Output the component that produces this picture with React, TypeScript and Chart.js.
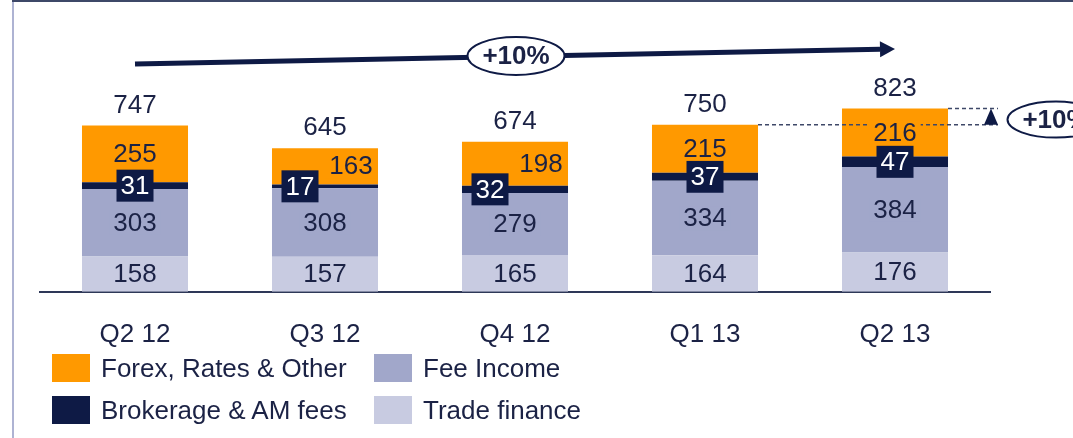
import React, { useEffect, useRef } from 'react';
import { Chart, registerables } from 'chart.js';

Chart.register(...registerables);

const categories = ['Q2 12', 'Q3 12', 'Q4 12', 'Q1 13', 'Q2 13'];
const tradeFinance = [158, 157, 165, 164, 176];
const feeIncome = [303, 308, 279, 334, 384];
const brokerage = [31, 17, 32, 37, 47];
const forex = [255, 163, 198, 215, 216];
const growthLabels = ['+10%', '+10%'];

const NAVY = '#0E1A45';
const TEXT = '#1B2245';
const ORANGE = '#FF9900';
const FEE = '#A1A7CA';
const TRADE = '#C8CBE1';
const FONT = '"Liberation Sans", Arial, Helvetica, sans-serif';
const FS = 26;

// bars whose top labels are shifted sideways to avoid overlapping
const shiftedBars = [1, 2];

const legendItems = [
  { label: 'Forex, Rates & Other', color: ORANGE, col: 0, row: 0 },
  { label: 'Fee Income', color: FEE, col: 1, row: 0 },
  { label: 'Brokerage & AM fees', color: NAVY, col: 0, row: 1 },
  { label: 'Trade finance', color: TRADE, col: 1, row: 1 },
];

function drawPill(ctx: CanvasRenderingContext2D, cx: number, cy: number, w: number, h: number, text: string) {
  ctx.save();
  ctx.beginPath();
  ctx.ellipse(cx, cy, w / 2, h / 2, 0, 0, Math.PI * 2);
  ctx.fillStyle = '#ffffff';
  ctx.fill();
  ctx.lineWidth = 2;
  ctx.strokeStyle = NAVY;
  ctx.stroke();
  ctx.fillStyle = TEXT;
  ctx.font = `bold ${FS}px ${FONT}`;
  ctx.textAlign = 'center';
  ctx.textBaseline = 'middle';
  ctx.fillText(text, cx, cy + 1);
  ctx.restore();
}

const framePlugin = {
  id: 'frame',
  beforeDraw(chart: any) {
    const ctx = chart.ctx as CanvasRenderingContext2D;
    ctx.save();
    ctx.fillStyle = '#AEB3D3';
    ctx.fillRect(12, 0, 2, chart.height);
    ctx.fillStyle = '#3E4868';
    ctx.fillRect(12, 0, chart.width - 12, 2);
    ctx.restore();
  },
};

const dashPlugin = {
  id: 'qoqDashes',
  afterDatasetsDraw(chart: any) {
    const ctx = chart.ctx as CanvasRenderingContext2D;
    const n = chart.data.labels.length;
    const topMeta = chart.getDatasetMeta(chart.data.datasets.length - 1);
    const prev = topMeta.data[n - 2].getProps(['x', 'y', 'width'], true);
    const last = topMeta.data[n - 1].getProps(['x', 'y', 'width'], true);
    const xEnd = 998;
    ctx.save();
    ctx.strokeStyle = '#3E4868';
    ctx.lineWidth = 1.5;
    ctx.setLineDash([4, 3]);
    ctx.beginPath();
    ctx.moveTo(prev.x + prev.width / 2, prev.y);
    ctx.lineTo(xEnd, prev.y);
    ctx.moveTo(last.x + last.width / 2, last.y);
    ctx.lineTo(xEnd, last.y);
    ctx.stroke();
    ctx.setLineDash([]);
    ctx.fillStyle = NAVY;
    ctx.beginPath();
    ctx.moveTo(991, last.y);
    ctx.lineTo(984, prev.y);
    ctx.lineTo(998, prev.y);
    ctx.closePath();
    ctx.fill();
    ctx.restore();
  },
};

const labelsPlugin = {
  id: 'segmentLabels',
  afterDatasetsDraw(chart: any) {
    const ctx = chart.ctx as CanvasRenderingContext2D;
    ctx.save();
    ctx.font = `${FS}px ${FONT}`;
    ctx.textAlign = 'center';
    ctx.textBaseline = 'middle';
    const n = chart.data.labels.length;
    chart.data.datasets.forEach((ds: any, di: number) => {
      const meta = chart.getDatasetMeta(di);
      meta.data.forEach((bar: any, i: number) => {
        const { x, y, base } = bar.getProps(['x', 'y', 'base'], true);
        const cy = (y + base) / 2;
        const val = ds.data[i];
        const shifted = shiftedBars.includes(i);
        if (ds.kind === 'brokerage') {
          const cx = shifted ? x - 25 : x;
          ctx.fillStyle = NAVY;
          ctx.fillRect(cx - 18.5, cy - 16, 37, 32);
          ctx.fillStyle = '#ffffff';
          ctx.fillText(String(val), cx, cy + 1);
        } else {
          const cx = ds.kind === 'forex' && shifted ? x + 26 : x;
          const w = ctx.measureText(String(val)).width;
          ctx.fillStyle = ds.backgroundColor;
          ctx.fillRect(cx - w / 2 - 4, cy - 12, w + 8, 24);
          ctx.fillStyle = TEXT;
          ctx.fillText(String(val), cx, cy + 1);
        }
      });
    });
    // totals above the bars
    const topMeta = chart.getDatasetMeta(chart.data.datasets.length - 1);
    for (let i = 0; i < n; i++) {
      const total = chart.data.datasets.reduce((s: number, d: any) => s + d.data[i], 0);
      const { x, y } = topMeta.data[i].getProps(['x', 'y'], true);
      ctx.fillStyle = TEXT;
      ctx.fillText(String(total), x, y - 20);
    }
    ctx.restore();
  },
};

const annotationPlugin = {
  id: 'growthAnnotations',
  afterDraw(chart: any) {
    const ctx = chart.ctx as CanvasRenderingContext2D;
    const xs = chart.scales.x;
    const n = chart.data.labels.length;
    const topMeta = chart.getDatasetMeta(chart.data.datasets.length - 1);
    ctx.save();
    // long trend arrow
    const x0 = xs.getPixelForValue(0);
    const x1 = xs.getPixelForValue(n - 1);
    const y0 = 64;
    const y1 = 49;
    const headLen = 15;
    const ang = Math.atan2(y1 - y0, x1 - x0);
    const bx = x1 - headLen * Math.cos(ang);
    const by = y1 - headLen * Math.sin(ang);
    ctx.strokeStyle = NAVY;
    ctx.lineWidth = 5;
    ctx.beginPath();
    ctx.moveTo(x0, y0);
    ctx.lineTo(bx, by);
    ctx.stroke();
    ctx.fillStyle = NAVY;
    ctx.beginPath();
    ctx.moveTo(x1, y1);
    ctx.lineTo(bx + 8 * Math.sin(ang), by - 8 * Math.cos(ang));
    ctx.lineTo(bx - 8 * Math.sin(ang), by + 8 * Math.cos(ang));
    ctx.closePath();
    ctx.fill();
    drawPill(ctx, xs.getPixelForValue(2) + 1, 56, 97, 38, growthLabels[0]);

    const prev = topMeta.data[n - 2].getProps(['y'], true);
    const last = topMeta.data[n - 1].getProps(['y'], true);
    drawPill(ctx, 1056, (prev.y + last.y) / 2 + 3, 97, 36, growthLabels[1]);
    ctx.restore();
  },
};

export default function App() {
  const canvasRef = useRef<HTMLCanvasElement | null>(null);

  useEffect(() => {
    if (!canvasRef.current) return;
    const mk = (label: string, data: number[], color: string, kind: string) => ({
      label,
      data,
      backgroundColor: color,
      borderWidth: 0,
      kind,
      stack: 's',
    });
    const chart = new Chart(canvasRef.current, {
      type: 'bar',
      data: {
        labels: categories,
        datasets: [
          mk('Trade finance', tradeFinance, TRADE, 'trade'),
          mk('Fee Income', feeIncome, FEE, 'fee'),
          mk('Brokerage & AM fees', brokerage, NAVY, 'brokerage'),
          mk('Forex, Rates & Other', forex, ORANGE, 'forex'),
        ] as any,
      },
      options: {
        responsive: false,
        animation: false,
        devicePixelRatio: 1,
        layout: { padding: { left: 40, right: 83, top: 0, bottom: 61 } },
        datasets: { bar: { categoryPercentage: 1, barPercentage: 0.558 } },
        plugins: {
          legend: { display: false },
          tooltip: { enabled: false },
        },
        scales: {
          x: {
            stacked: true,
            grid: { display: false, drawTicks: false },
            border: { display: true, color: '#2E3858', width: 2 },
            ticks: {
              color: TEXT,
              font: { size: FS, family: FONT },
              padding: 27,
              maxRotation: 0,
            },
          },
          y: {
            stacked: true,
            display: false,
            min: 0,
            max: 1310,
          },
        },
      },
      plugins: [framePlugin, dashPlugin, labelsPlugin, annotationPlugin],
    });
    return () => chart.destroy();
  }, []);

  return (
    <div style={{ position: 'absolute', left: 0, top: 0, width: 1073, height: 438, overflow: 'hidden', background: '#ffffff' }}>
      <canvas ref={canvasRef} width={1073} height={438} style={{ position: 'absolute', left: 0, top: 0 }} />
      {legendItems.map((it) => {
        const left = it.col === 0 ? 52 : 374;
        const top = it.row === 0 ? 354 : 396;
        return (
          <React.Fragment key={it.label}>
            <div style={{ position: 'absolute', left, top, width: 38, height: 28, background: it.color }} />
            <div
              style={{
                position: 'absolute',
                left: left + 49,
                top: top - 1,
                height: 30,
                lineHeight: '30px',
                font: `${FS}px ${FONT}`,
                color: TEXT,
                whiteSpace: 'nowrap',
              }}
            >
              {it.label}
            </div>
          </React.Fragment>
        );
      })}
    </div>
  );
}
